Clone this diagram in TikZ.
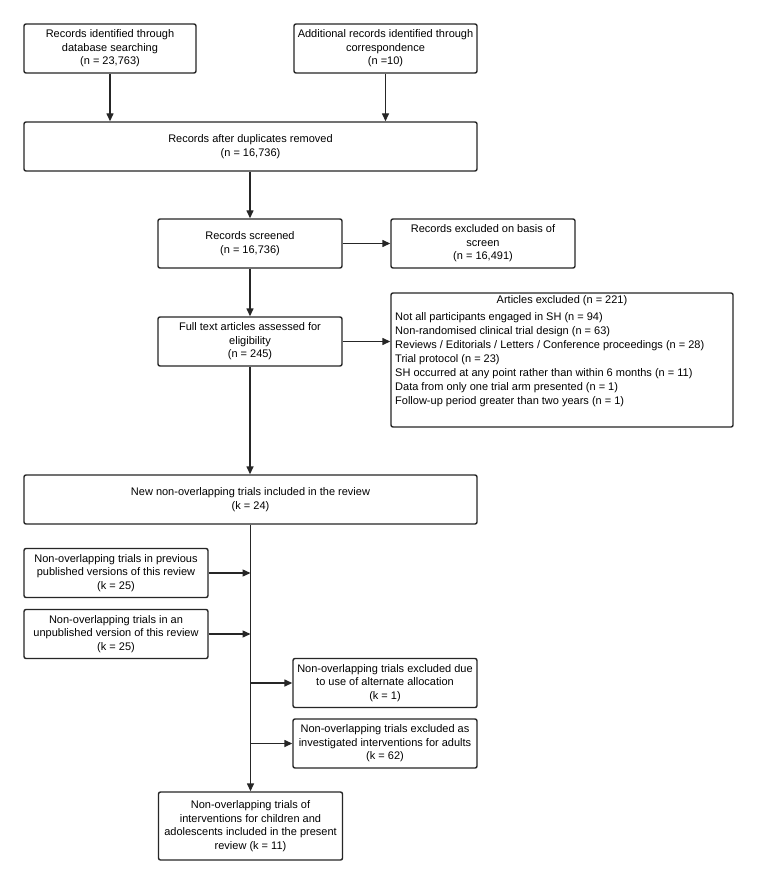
\documentclass[tikz,border=0pt]{standalone}
\usepackage{fontspec}
\setmainfont{Liberation Sans}
\usetikzlibrary{arrows.meta}
\begin{document}
\begin{tikzpicture}[x=1pt,y=-1pt,
  box/.style={draw=black!85, line width=1.4pt, rounded corners=2pt, align=center,
    inner sep=0pt, font=\fontsize{11}{13.5}\selectfont},
  txt/.style={inner sep=0pt, font=\fontsize{11}{13.9}\selectfont},
  arr/.style={draw=black!85, line width=1.4pt, -{Triangle[length=8pt,width=7pt]}}]
\useasboundingbox[fill=white] (0,0) rectangle (756,885);
% boxes
\node[box, minimum width=172pt, minimum height=49pt] (A) at (110,48.5) {Records identified through\\database searching\\(n = 23,763)};
\node[box, minimum width=183pt, minimum height=49pt] (B) at (385.5,48.5) {Additional records identified through\\correspondence\\(n =10)};
\node[box, minimum width=453pt, minimum height=49pt] (C) at (250.5,146.5) {Records after duplicates removed\\(n = 16,736)};
\node[box, minimum width=184pt, minimum height=49pt] (D) at (250,243.5) {Records screened\\(n = 16,736)};
\node[box, minimum width=184pt, minimum height=49pt] (E) at (483,243.5) {Records excluded on basis of\\screen\\(n = 16,491)};
\node[box, minimum width=184pt, minimum height=49pt] (F) at (250,341.5) {Full text articles assessed for\\eligibility\\(n = 245)};
\node[box, minimum width=342pt, minimum height=134pt] (G) at (562,360) {};
\node[txt, anchor=center] (Gt) at (562,301) {Articles excluded (n = 221)};
\node[txt, align=left, anchor=north west] (Gl) at (395,312.5) {Not all participants engaged in SH (n = 94)\\
Non-randomised clinical trial design (n = 63)\\
Reviews / Editorials / Letters / Conference proceedings (n = 28)\\
Trial protocol (n = 23)\\
SH occurred at any point rather than within 6 months (n = 11)\\
Data from only one trial arm presented (n = 1)\\
Follow-up period greater than two years (n = 1)};
\node[box, minimum width=453pt, minimum height=49pt] (H) at (250.5,499.5) {New non-overlapping trials included in the review\\(k = 24)};
\node[box, minimum width=184pt, minimum height=49pt] (I) at (116,573) {Non-overlapping trials in previous\\published versions of this review\\(k = 25)};
\node[box, minimum width=184pt, minimum height=49pt] (J) at (116,634) {Non-overlapping trials in an\\unpublished version of this review\\(k = 25)};
\node[box, minimum width=184pt, minimum height=49pt] (K) at (385,683) {Non-overlapping trials excluded due\\to use of alternate allocation\\(k = 1)};
\node[box, minimum width=184pt, minimum height=49pt] (L) at (385,743.5) {Non-overlapping trials excluded as\\investigated interventions for adults\\(k = 62)};
\node[box, minimum width=184pt, minimum height=68pt] (M) at (250.5,826) {Non-overlapping trials of\\interventions for children and\\adolescents included in the present\\review (k = 11)};
% connectors
\draw[arr] (A.south) -- (A.south |- C.north);
\draw[arr] (B.south) -- (B.south |- C.north);
\draw[arr] (D.north |- C.south) -- (D.north);
\draw[arr] (D.east) -- (E.west);
\draw[arr] (D.south) -- (F.north);
\draw[arr] (F.east) -- (G.west |- F.east);
\draw[arr] (F.south) -- (F.south |- H.north);
\draw[arr] (H.south) -- (M.north);
\draw[arr] (I.east) -- (I.east -| M.north);
\draw[arr] (J.east) -- (J.east -| M.north);
\draw[arr] (K.west -| M.north) -- (K.west);
\draw[arr] (L.west -| M.north) -- (L.west);
\end{tikzpicture}
\end{document}
